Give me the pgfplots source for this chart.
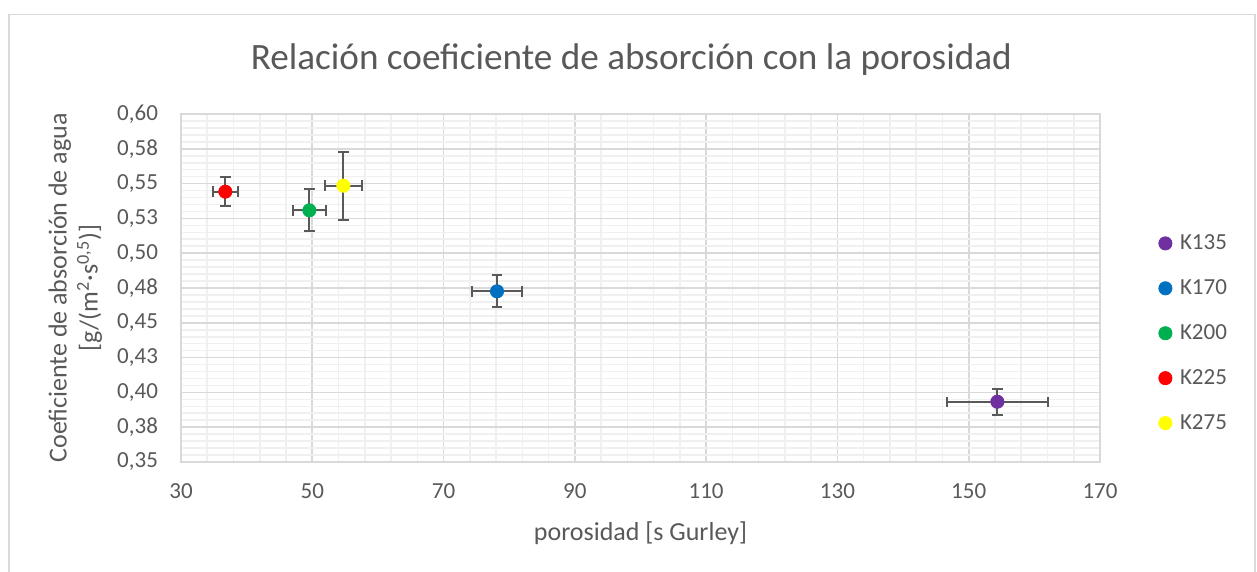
\documentclass[border=0pt]{standalone}
\usepackage{pgfplots}
\pgfplotsset{compat=1.18}
\usepackage{fontspec}
\setmainfont{Carlito}
\definecolor{txt}{HTML}{595959}
\definecolor{majgrid}{HTML}{D9D9D9}
\definecolor{mingrid}{HTML}{F0F0F0}
\definecolor{ebar}{HTML}{595959}
\definecolor{cK135}{HTML}{7030A0}
\definecolor{cK170}{HTML}{0070C0}
\definecolor{cK200}{HTML}{00B050}
\definecolor{cK225}{HTML}{FF0000}
\definecolor{cK275}{HTML}{FFFF00}
\begin{document}
\begin{tikzpicture}
\useasboundingbox (0,0) rectangle (628.5pt,286pt);
\draw[majgrid, line width=0.8pt] (4.5pt,-2pt) -- (4.5pt,278.75pt) -- (627.5pt,278.75pt) -- (627.5pt,-2pt);
\begin{axis}[
  at={(90.5pt,55pt)}, anchor=south west,
  width=459.5pt, height=174pt, scale only axis,
  xmin=30, xmax=170, ymin=0.35, ymax=0.60,
  xtick={30,50,...,170},
  minor x tick num=4,
  ytick={0.35,0.375,0.40,0.425,0.45,0.475,0.50,0.525,0.55,0.575,0.60},
  yticklabels={{0,35},{0,38},{0,40},{0,43},{0,45},{0,48},{0,50},{0,53},{0,55},{0,58},{0,60}},
  minor y tick num=4,
  grid=both,
  major grid style={majgrid, line width=0.8pt},
  minor grid style={mingrid, line width=0.8pt},
  axis line style={majgrid, line width=0.8pt},
  major tick length=0pt, minor tick length=0pt,
  tick style={draw=none},
  /pgf/number format/assume math mode=true,
  ticklabel style={font=\fontsize{11.5}{13}\selectfont, text=txt},
  xticklabel style={yshift=-7.5pt},
  yticklabel style={xshift=-8pt},
  title={Relación coeficiente de absorción con la porosidad},
  title style={at={(axis description cs:0.49,1.093)}, anchor=base, font=\fontsize{18.6}{21}\selectfont, text=txt},
  xlabel={porosidad [s Gurley]},
  xlabel style={at={(axis description cs:0.5,-0.204)}, anchor=center, font=\fontsize{13}{15}\selectfont, text=txt},
  ylabel={Coeficiente de absorción de agua\\{}[g/(m\textsuperscript{2}·s\textsuperscript{0,5})]},
  ylabel style={at={(axis description cs:-0.115,0.5)}, anchor=center, align=center, font=\fontsize{13}{15.5}\selectfont, text=txt},
  legend style={at={(axis description cs:1.057,0.37)}, anchor=west, draw=none, fill=none,
    font=\fontsize{11.5}{13}\selectfont, text=txt, row sep=9.5pt,
    /tikz/every odd column/.append style={column sep=2pt}},
  legend cell align=left,
  error bars/x dir=both, error bars/y dir=both,
  error bars/x explicit, error bars/y explicit,
  error bars/error bar style={ebar, line width=1pt},
  error bars/error mark options={ebar, line width=1pt, mark size=2.6pt, rotate=90},
  clip=false,
]
\addplot[only marks, mark=*, mark size=3.3pt, color=cK135, mark options={fill=cK135, draw=cK135}]
  coordinates {(154.36,0.3933) +- (7.74,0.0093)};
\addlegendentry{K135}
\addplot[only marks, mark=*, mark size=3.3pt, color=cK170, mark options={fill=cK170, draw=cK170}]
  coordinates {(78.14,0.4726) +- (3.88,0.0114)};
\addlegendentry{K170}
\addplot[only marks, mark=*, mark size=3.3pt, color=cK200, mark options={fill=cK200, draw=cK200}]
  coordinates {(49.55,0.5308) +- (2.54,0.0150)};
\addlegendentry{K200}
\addplot[only marks, mark=*, mark size=3.3pt, color=cK225, mark options={fill=cK225, draw=cK225}]
  coordinates {(36.75,0.5442) +- (1.86,0.0106)};
\addlegendentry{K225}
\addplot[only marks, mark=*, mark size=3.3pt, color=cK275, mark options={fill=cK275, draw=cK275}]
  coordinates {(54.73,0.5485) +- (2.82,0.0245)};
\addlegendentry{K275}
\end{axis}
\end{tikzpicture}
\end{document}
